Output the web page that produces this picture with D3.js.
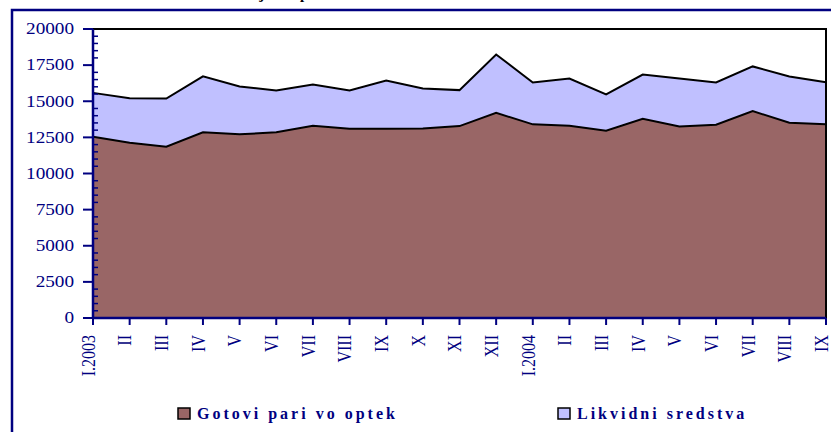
<!DOCTYPE html>
<html>
<head>
<meta charset="utf-8">
<script src="https://cdn.jsdelivr.net/npm/d3@7"></script>
<style>
  body { margin: 0; background: #fff; }
  svg { display: block; }
</style>
</head>
<body>
<div class="chart"></div>
<script>
'use strict';

// Data
const months = ['I.2003', 'II', 'III', 'IV', 'V', 'VI', 'VII', 'VIII', 'IX', 'X', 'XI', 'XII',
                'I.2004', 'II', 'III', 'IV', 'V', 'VI', 'VII', 'VIII', 'IX'];
const gotoviPari = [12540, 12130, 11850, 12850, 12710, 12850, 13300, 13090, 13090, 13120, 13280,
                    14200, 13400, 13300, 12960, 13790, 13260, 13370, 14320, 13510, 13400];
const likvidni = [3040, 3070, 3340, 3870, 3310, 2900, 2860, 2650, 3340, 2760, 2490,
                  4030, 2900, 3270, 2510, 3060, 3310, 2930, 3090, 3200, 2920];
const seriesNames = ['Gotovi pari vo optek', 'Likvidni sredstva'];
const yTicks = [0, 2500, 5000, 7500, 10000, 12500, 15000, 17500, 20000];

// Initialize
const w = 831;
const h = 432;
const navy = '#000080';
const colors = ['#996666', '#C0C0FF'];
const padL = 93, padR = 826, padT = 29, padB = 318;
const sx = 1.2; // text in the picture is stretched sideways

const svg = d3.select('.chart')
              .append('svg')
              .attr('width', w)
              .attr('height', h);

// Cut-off heading above the frame
svg.append('text')
  .attr('x', 150)
  .attr('y', -1.5)
  .style('font-family', '"Liberation Serif", serif')
  .style('font-weight', 'bold')
  .style('font-size', '15px')
  .text('Dinamika do krajot na periodot');

// Outer frame
svg.append('rect')
  .attr('x', 12)
  .attr('y', 10)
  .attr('width', 900)
  .attr('height', 500)
  .attr('fill', 'none')
  .attr('stroke', navy)
  .attr('stroke-width', 2.5);

// Scales
const xScale = d3.scalePoint()
                 .domain(d3.range(months.length))
                 .range([padL, padR]);

const yScale = d3.scaleLinear()
                 .domain([0, 20000])
                 .range([padB, padT]);

// Stack
const table = months.map((m, i) => ({ i: i, a: gotoviPari[i], b: likvidni[i] }));
const stacked = d3.stack().keys(['a', 'b'])(table);

const area = d3.area()
  .x(d => xScale(d.data.i))
  .y0(d => yScale(d[0]))
  .y1(d => yScale(d[1]));

const edgeLine = d3.line()
  .x(d => xScale(d.data.i))
  .y(d => yScale(d[1]));

svg.selectAll('.layer')
  .data(stacked)
  .enter()
  .append('path')
  .attr('class', 'layer')
  .attr('d', area)
  .attr('fill', (d, i) => colors[i]);

svg.selectAll('.edge')
  .data(stacked)
  .enter()
  .append('path')
  .attr('class', 'edge')
  .attr('d', edgeLine)
  .attr('fill', 'none')
  .attr('stroke', '#000')
  .attr('stroke-width', 2);

// Plot frame (top and right)
svg.append('path')
  .attr('d', `M${padL},${padT}H${padR}V${padB}`)
  .attr('fill', 'none')
  .attr('stroke', '#000')
  .attr('stroke-width', 2);

// Y axis
const yAxis = svg.append('g');
yAxis.append('line')
  .attr('x1', padL).attr('x2', padL)
  .attr('y1', padT).attr('y2', padB)
  .attr('stroke', navy).attr('stroke-width', 2.5);

yAxis.selectAll('.major')
  .data(yTicks)
  .enter()
  .append('line')
  .attr('x1', padL - 10).attr('x2', padL)
  .attr('y1', d => yScale(d)).attr('y2', d => yScale(d))
  .attr('stroke', navy).attr('stroke-width', 2);

yAxis.selectAll('.minor')
  .data(d3.range(0, 20001, 500).filter(v => v % 2500 !== 0))
  .enter()
  .append('line')
  .attr('x1', padL).attr('x2', padL + 5)
  .attr('y1', d => yScale(d)).attr('y2', d => yScale(d))
  .attr('stroke', navy).attr('stroke-width', 1.5);

yAxis.selectAll('.ylabel')
  .data(yTicks)
  .enter()
  .append('text')
  .attr('transform', d => `translate(74, ${yScale(d)}) scale(${sx}, 1)`)
  .attr('dy', '0.33em')
  .style('text-anchor', 'end')
  .style('font-family', '"Liberation Serif", serif')
  .style('font-size', '16px')
  .style('fill', navy)
  .text(d => d);

// X axis
const xAxis = svg.append('g');
xAxis.append('line')
  .attr('x1', padL).attr('x2', padR)
  .attr('y1', padB).attr('y2', padB)
  .attr('stroke', navy).attr('stroke-width', 2.5);

xAxis.selectAll('.xtick')
  .data(months)
  .enter()
  .append('line')
  .attr('x1', (d, i) => xScale(i)).attr('x2', (d, i) => xScale(i))
  .attr('y1', padB).attr('y2', padB + 7)
  .attr('stroke', navy).attr('stroke-width', 2);

xAxis.selectAll('.xlabel')
  .data(months)
  .enter()
  .append('text')
  .attr('transform', (d, i) => `translate(${xScale(i)}, 335) scale(${sx}, 1) rotate(-90)`)
  .attr('y', 1.5)
  .style('text-anchor', 'end')
  .style('font-family', '"Liberation Serif", serif')
  .style('font-size', '16px')
  .style('fill', navy)
  .text(d => d);

// Legends
const legendX = [178, 558];
const legend = svg.selectAll('.legend')
  .data(seriesNames)
  .enter()
  .append('g')
  .attr('class', 'legend')
  .attr('transform', (d, i) => `translate(${legendX[i]}, 408)`);

legend.append('rect')
  .attr('width', 12)
  .attr('height', 11)
  .attr('fill', (d, i) => colors[i])
  .attr('stroke', '#000')
  .attr('stroke-width', 1.5);

legend.append('text')
  .attr('x', 19)
  .attr('y', 10.5)
  .style('font-family', '"Liberation Serif", serif')
  .style('font-weight', 'bold')
  .style('font-size', '16px')
  .style('letter-spacing', '3px')
  .style('fill', navy)
  .text(d => d);
</script>
</body>
</html>
